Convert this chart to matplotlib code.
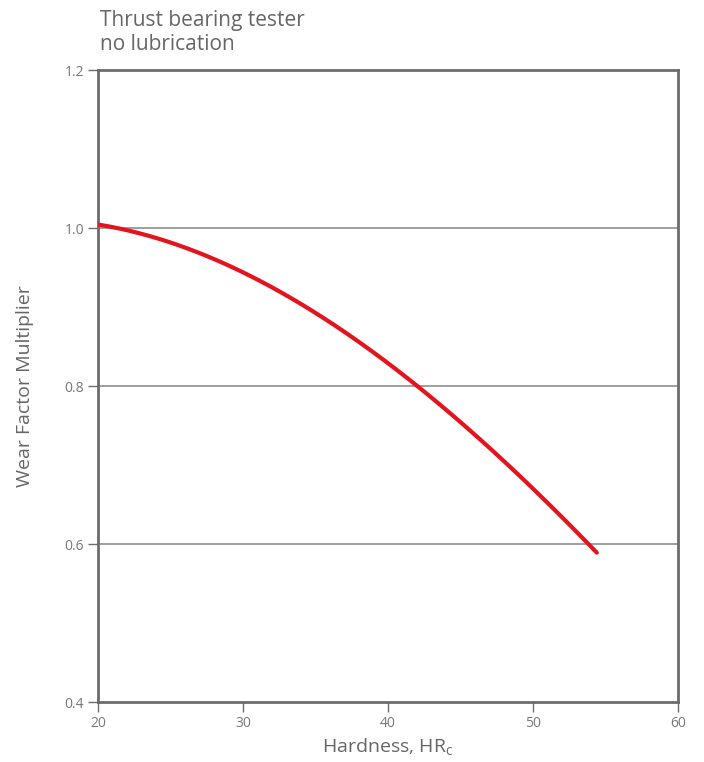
import matplotlib
matplotlib.use('Agg')
import matplotlib.pyplot as plt
import numpy as np

plt.rcParams['font.family'] = ['Open Sans', 'DejaVu Sans']

# hardness (HRc) vs wear factor multiplier
hardness = [20, 22.5, 25, 27.5, 30, 32.5, 35, 37.5, 40, 42.5, 45, 47.5, 50, 52.5, 54.4]
wear_factor = [1.003, 0.996, 0.982, 0.965, 0.945, 0.920, 0.893, 0.861, 0.826, 0.791,
               0.755, 0.716, 0.672, 0.625, 0.587]

x_ticks = [20, 30, 40, 50, 60]
y_ticks = [0.4, 0.6, 0.8, 1.0, 1.2]
y_tick_labels = ['0.4', '0.6', '0.8', '1.0', '1.2']

text_col = '#666666'
spine_col = '#6b6b6b'

fig = plt.figure(figsize=(7.04, 7.62), dpi=100)
ax = fig.add_axes([98 / 704, 1 - 702 / 762, 580 / 704, 632 / 762])

# smooth the read points a bit for drawing
xs = np.linspace(hardness[0], hardness[-1], 200)
coef = np.polyfit(hardness, wear_factor, 3)
ax.plot(xs, np.polyval(coef, xs), color='#e3141d', lw=3, solid_capstyle='round', zorder=3)

ax.set_xlim(20, 60)
ax.set_ylim(0.4, 1.2)
ax.set_xticks(x_ticks)
ax.set_yticks(y_ticks)
ax.set_yticklabels(y_tick_labels)

for y in y_ticks[1:-1]:
    ax.axhline(y, color='#8f8f8f', lw=1.2, zorder=1)

for s in ax.spines.values():
    s.set_color(spine_col)
    s.set_linewidth(2)

ax.tick_params(axis='both', direction='out', length=7, width=1, color=spine_col,
               labelsize=10, labelcolor='#777777', pad=3)

ax.set_xlabel('Hardness, HR$_\\mathregular{c}$', fontsize=14, color=text_col, labelpad=4)
ax.set_ylabel('Wear Factor Multiplier', fontsize=14, color=text_col, labelpad=22)

fig.text(100 / 704, 1 - 55 / 762, 'Thrust bearing tester\nno lubrication',
         ha='left', va='bottom', fontsize=15, color=text_col, linespacing=1.2)

fig.savefig('out.png', dpi=100)
